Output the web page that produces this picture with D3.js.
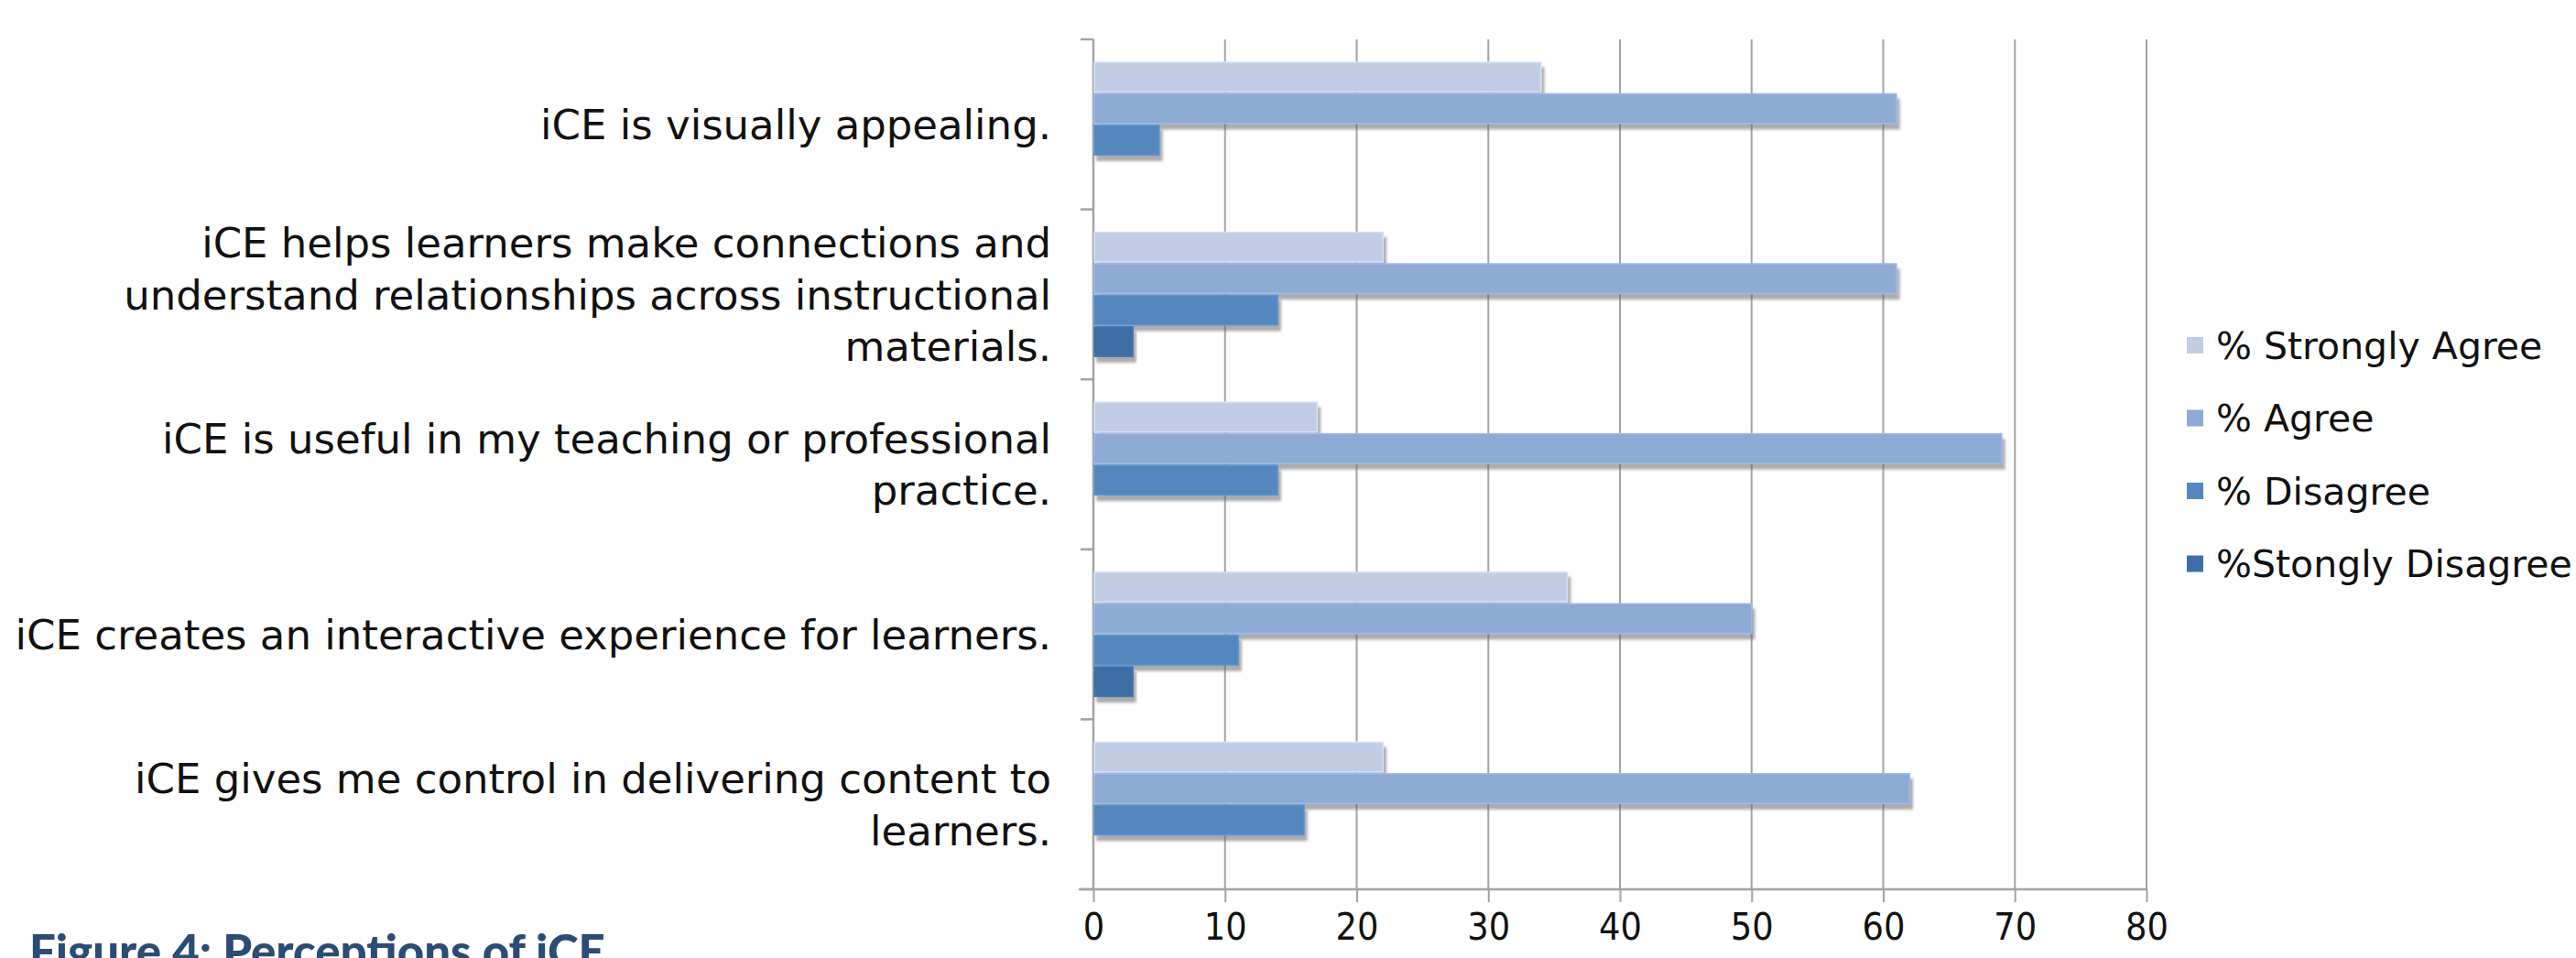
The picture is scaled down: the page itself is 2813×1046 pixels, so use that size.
<!DOCTYPE html>
<html lang="en">
<head>
  <meta charset="UTF-8">
  <title>Perceptions of iCE</title>
  <script src="https://d3js.org/d3.v7.min.js"></script>
  <style>
    html, body { margin: 0; padding: 0; background: #fff; overflow: hidden; }
    svg { display: block; }
    .lbl { font-family: 'DejaVu Sans', sans-serif; fill: #111; }
    .tick-lbl { font-family: 'DejaVu Sans Condensed', 'DejaVu Sans', sans-serif; font-stretch: condensed; fill: #111; }
  </style>
</head>
<body>
  <svg id="chart"></svg>

  <script>
    const categories = [
      "iCE is visually appealing.",
      "iCE helps learners make connections and understand relationships across instructional materials.",
      "iCE is useful in my teaching or professional practice.",
      "iCE creates an interactive experience for learners.",
      "iCE gives me control in delivering content to learners."
    ];
    const labelLines = [
      ["iCE is visually appealing."],
      ["iCE helps learners make connections and", "understand relationships across instructional", "materials."],
      ["iCE is useful in my teaching or professional", "practice."],
      ["iCE creates an interactive experience for learners."],
      ["iCE gives me control in delivering content to", "learners."]
    ];
    const seriesNames = ["% Strongly Agree", "% Agree", "% Disagree", "%Stongly Disagree"];
    const stronglyAgree = [34, 22, 17, 36, 22];
    const agree = [61, 61, 69, 50, 62];
    const disagree = [5, 14, 14, 11, 16];
    const stronglyDisagree = [0, 3, 0, 3, 0];
    const xTicks = [0, 10, 20, 30, 40, 50, 60, 70, 80];
    const colors = ["#c1cde5", "#8eabd4", "#5487bf", "#3e6ea4"];

    const width = 2813;
    const height = 1046;
    const seriesValues = [stronglyAgree, agree, disagree, stronglyDisagree];

    const svg = d3.select("#chart")
      .attr("width", width)
      .attr("height", height);

    const defs = svg.append("defs");
    const shadow = defs.append("filter")
      .attr("id", "shadow")
      .attr("x", "-5%").attr("y", "-20%")
      .attr("width", "115%").attr("height", "160%");
    shadow.append("feDropShadow")
      .attr("dx", 3).attr("dy", 6)
      .attr("stdDeviation", 1.5)
      .attr("flood-color", "#666")
      .attr("flood-opacity", 0.55);

    const x = d3.scaleLinear().domain([0, 80]).range([1194, 2344]);
    const y = d3.scaleBand().domain(categories).range([43, 971]);
    const ySub = d3.scaleBand()
      .domain(seriesNames)
      .range([25, y.bandwidth() - 25])
      .paddingInner(0.06);

    const plotTop = 43, plotBottom = 971;

    // gridlines
    svg.append("g")
      .selectAll("line")
      .data(xTicks.slice(1))
      .join("line")
      .attr("x1", d => x(d)).attr("x2", d => x(d))
      .attr("y1", plotTop).attr("y2", plotBottom)
      .attr("stroke", "#a3a3a3")
      .attr("stroke-width", 2);

    // x axis
    const xAxis = svg.append("g")
      .attr("transform", `translate(0,${plotBottom})`)
      .call(d3.axisBottom(x).tickValues(xTicks).tickSize(14).tickSizeOuter(0).tickPadding(12));
    xAxis.select(".domain").remove();
    xAxis.selectAll(".tick line").attr("stroke", "#a3a3a3").attr("stroke-width", 2);
    xAxis.selectAll(".tick text")
      .attr("class", "tick-lbl")
      .style("font-size", "41px")
      .attr("fill", "#111");
    svg.append("line")
      .attr("x1", x(0) - 16).attr("x2", x(80))
      .attr("y1", plotBottom).attr("y2", plotBottom)
      .attr("stroke", "#a3a3a3").attr("stroke-width", 2.5);

    // y axis with ticks at group boundaries
    const bounds = categories.map(c => y(c)).concat([plotBottom]);
    svg.append("line")
      .attr("x1", x(0)).attr("x2", x(0))
      .attr("y1", plotTop).attr("y2", plotBottom)
      .attr("stroke", "#a3a3a3").attr("stroke-width", 2.5);
    svg.append("g")
      .selectAll("line")
      .data(bounds)
      .join("line")
      .attr("x1", x(0) - 14).attr("x2", x(0))
      .attr("y1", d => d).attr("y2", d => d)
      .attr("stroke", "#a3a3a3").attr("stroke-width", 2.5);

    // bars
    const barData = [];
    categories.forEach((c, i) => {
      seriesNames.forEach((s, j) => {
        barData.push({ cat: c, series: s, value: seriesValues[j][i], idx: j });
      });
    });

    svg.append("g")
      .selectAll("rect")
      .data(barData.filter(d => d.value > 0))
      .join("rect")
      .attr("x", x(0) + 1)
      .attr("y", d => y(d.cat) + ySub(d.series))
      .attr("width", d => x(d.value) - x(0) - 1)
      .attr("height", ySub.bandwidth())
      .attr("fill", d => colors[d.idx])
      .attr("stroke", d => d3.color(colors[d.idx]).brighter(0.25))
      .attr("stroke-width", 1.5)
      .attr("filter", "url(#shadow)");

    // category labels
    const lineH = 56.5;
    const labels = svg.append("g")
      .selectAll("text")
      .data(categories)
      .join("text")
      .attr("class", "lbl")
      .attr("text-anchor", "end")
      .style("font-size", "45px");
    labels.each(function (c, i) {
      const lines = labelLines[i];
      const cy = y(c) + y.bandwidth() / 2;
      d3.select(this).selectAll("tspan")
        .data(lines)
        .join("tspan")
        .attr("x", 1148)
        .attr("y", (d, k) => cy + (k - (lines.length - 1) / 2) * lineH)
        .attr("dy", "0.36em")
        .text(d => d);
    });

    // legend
    const legend = svg.append("g")
      .selectAll("g")
      .data(seriesNames)
      .join("g")
      .attr("transform", (d, i) => `translate(2388,${377 + i * 79.5})`);
    legend.append("rect")
      .attr("x", 0).attr("y", -9)
      .attr("width", 18).attr("height", 18)
      .attr("fill", (d, i) => colors[i]);
    legend.append("text")
      .attr("class", "lbl")
      .attr("x", 32)
      .attr("dy", "0.36em")
      .style("font-size", "41px")
      .text(d => d);

    // caption (cut off at the bottom edge, as in the source)
    svg.append("text")
      .attr("x", 32)
      .attr("y", 1057)
      .attr("fill", "#2b4c74")
      .style("font-family", "Lato, 'Open Sans', sans-serif")
      .style("font-weight", "900")
      .style("font-size", "51px")
      .text("Figure 4: Perceptions of iCE");
  </script>
</body>
</html>
